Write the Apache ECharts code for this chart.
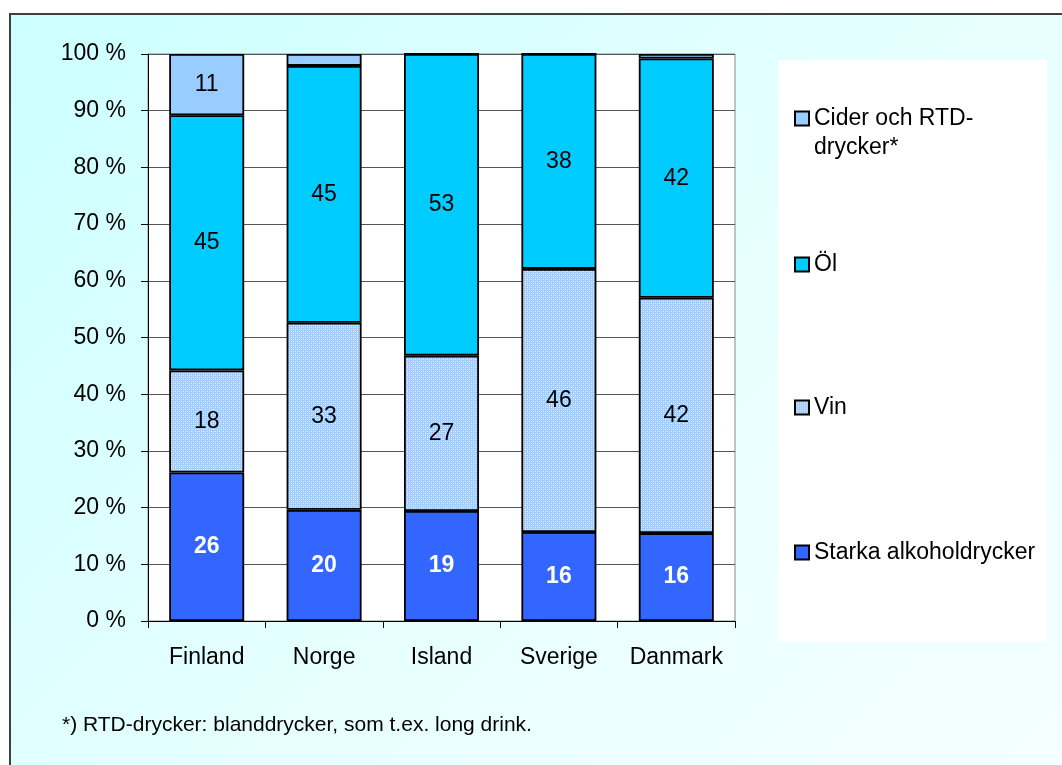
<!DOCTYPE html>
<html>
<head>
<meta charset="utf-8">
<script src="https://cdn.jsdelivr.net/npm/echarts@6/dist/echarts.min.js"></script>
<style>
  html, body { margin: 0; padding: 0; background: #ffffff; }
  #frame { position: absolute; left: 9px; top: 13px; width: 1100px; height: 800px;
           border: 2px solid #404040; box-sizing: border-box;
           background: linear-gradient(135deg, #CCFFFF 0%, #E8FFFF 55%, #F6FFFF 100%); }
  #chart { position: absolute; left: 0; top: 0; width: 1062px; height: 765px; }
</style>
</head>
<body>
<div id="frame"></div>
<div id="chart"></div>
<script>
// ---- data (shares in %) ----
const countries = ['Finland', 'Norge', 'Island', 'Sverige', 'Danmark'];
const starka = [26.2, 19.6, 19.4, 15.7, 15.5];
const vin    = [18.0, 33.0, 27.4, 46.4, 41.5];
const ol     = [45.0, 45.3, 53.2, 37.9, 42.2];
const cider  = [10.8, 2.1, 0, 0, 0.8];
const seriesNames = ['Starka alkoholdrycker', 'Vin', 'Öl', 'Cider och RTD-drycker*'];
const yTicks = [0, 10, 20, 30, 40, 50, 60, 70, 80, 90, 100];
const footnote = '*) RTD-drycker: blanddrycker, som t.ex. long drink.';

const FONT = '"Liberation Sans", Arial, sans-serif';

// dotted fill pattern for Vin
const pc = document.createElement('canvas');
pc.width = 4; pc.height = 4;
const pctx = pc.getContext('2d');
pctx.fillStyle = '#A4CCF6';
pctx.fillRect(0, 0, 4, 4);
pctx.fillStyle = '#EAF4FF';
pctx.fillRect(1, 1, 1, 1);
pctx.fillRect(3, 3, 1, 1);
pctx.fillStyle = '#C8E0FB';
pctx.fillRect(3, 1, 1, 1);
pctx.fillRect(1, 3, 1, 1);
const vinPattern = { image: pc, repeat: 'repeat' };

const chart = echarts.init(document.getElementById('chart'), null, { renderer: 'canvas' });

function mkSeries(name, data, color, labelStyle) {
  return {
    name: name,
    type: 'bar',
    stack: 'total',
    barWidth: 75,
    data: data,
    itemStyle: { color: color, borderColor: '#000', borderWidth: 1.8 },
    label: Object.assign({
      show: true,
      position: 'inside',
      fontFamily: FONT,
      fontSize: 23,
      color: '#000',
      formatter: p => (p.value >= 5 ? String(Math.round(p.value)) : '')
    }, labelStyle || {}),
    emphasis: { disabled: true }
  };
}

const legendBase = {
  orient: 'vertical',
  left: 789,
  itemWidth: 14,
  itemHeight: 14,
  itemGap: 0,
  icon: 'rect',
  selectedMode: false,
  textStyle: { fontFamily: FONT, fontSize: 23, color: '#000' }
};

const option = {
  backgroundColor: 'transparent',
  animation: false,
  title: {
    text: footnote,
    left: 57,
    top: 710,
    textStyle: { fontFamily: FONT, fontSize: 21, fontWeight: 'normal', color: '#000' }
  },
  graphic: [
    { type: 'rect', z: 0, shape: { x: 778, y: 60, width: 269, height: 582 }, style: { fill: '#ffffff' } }
  ],
  legend: [
    Object.assign({}, legendBase, {
      top: 70, data: [seriesNames[3]],
      formatter: () => ' \nCider och RTD-\ndrycker*',
      textStyle: { fontFamily: FONT, fontSize: 23, color: '#000', lineHeight: 29 }
    }),
    Object.assign({}, legendBase, { top: 248, data: [seriesNames[2]] }),
    Object.assign({}, legendBase, { top: 391, data: [seriesNames[1]] }),
    Object.assign({}, legendBase, { top: 536, data: [seriesNames[0]] })
  ],
  grid: {
    left: 148, right: 327, top: 54, bottom: 144,
    show: true, backgroundColor: '#ffffff', borderColor: '#8a8a8a', borderWidth: 1
  },
  xAxis: {
    type: 'category',
    data: countries,
    axisLine: { show: true, lineStyle: { color: '#000', width: 1 } },
    axisTick: { show: true, interval: 0, length: 7, alignWithLabel: false, lineStyle: { color: '#000' } },
    axisLabel: { interval: 0, fontFamily: FONT, fontSize: 23, color: '#000', margin: 25 },
    splitLine: { show: false }
  },
  yAxis: {
    type: 'value',
    min: yTicks[0],
    max: yTicks[yTicks.length - 1],
    interval: 10,
    axisLine: { show: true, lineStyle: { color: '#000', width: 1 } },
    axisTick: { show: true, length: 7, lineStyle: { color: '#000' } },
    axisLabel: { fontFamily: FONT, fontSize: 23, color: '#000', margin: 22, formatter: '{value} %' },
    splitLine: { show: true, lineStyle: { color: '#555', width: 1 } }
  },
  series: [
    mkSeries(seriesNames[0], starka, '#3366FF', { color: '#fff', fontWeight: 'bold' }),
    mkSeries(seriesNames[1], vin, vinPattern),
    mkSeries(seriesNames[2], ol, '#00CCFF'),
    mkSeries(seriesNames[3], cider, '#99CCFF')
  ]
};

chart.setOption(option);
</script>
</body>
</html>
